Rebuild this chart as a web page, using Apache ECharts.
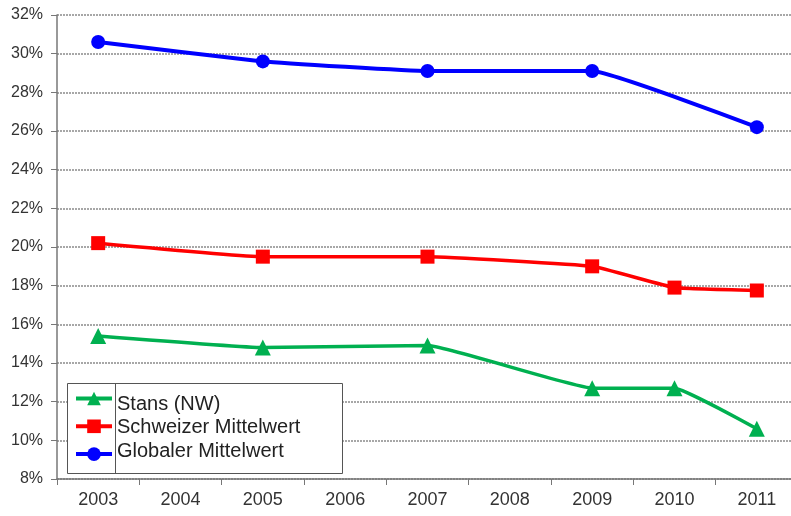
<!DOCTYPE html>
<html>
<head>
<meta charset="utf-8">
<script src="https://cdn.jsdelivr.net/npm/echarts@6/dist/echarts.min.js"></script>
<style>
  html, body { margin: 0; padding: 0; background: #fff; overflow: hidden; }
  /* plot area runs slightly past the right edge of the window */
  #chart { width: 800px; height: 516px; }
</style>
</head>
<body>
<div id="chart"></div>
<script>
// Years on the category axis
const years = ['2003', '2004', '2005', '2006', '2007', '2008', '2009', '2010', '2011'];

// Shares in percent (null = no survey that year)
const stans = [15.4, null, 14.8, null, 14.9, null, 12.7, 12.7, 10.6];
const schweiz = [20.2, null, 19.5, null, 19.5, null, 19.0, 17.9, 17.75];
const global = [30.6, null, 29.6, null, 29.1, null, 29.1, null, 26.2];

const seriesNames = ['Stans (NW)', 'Schweizer Mittelwert', 'Globaler Mittelwert'];

const chart = echarts.init(document.getElementById('chart'), null, { renderer: 'canvas' });

const textColor = '#333';
const fontFamily = '"Liberation Sans", Arial, sans-serif';

function lineSeries(name, data, color, symbol, size, width) {
  return {
    name: name,
    type: 'line',
    data: data,
    connectNulls: true,
    smooth: 0.1,
    symbol: symbol,
    symbolSize: size,
    itemStyle: { color: color },
    lineStyle: { color: color, width: width },
    emphasis: { disabled: true },
    z: 3
  };
}

// Legend texts drawn to the right of the icon column
const legendTextY = [394, 417, 441];
const legendTexts = seriesNames.map((n, i) => ({
  type: 'text',
  left: 117,
  top: legendTextY[i],
  z: 20,
  style: { text: n, fill: '#222', font: '20px ' + fontFamily }
}));

chart.setOption({
  animation: false,
  backgroundColor: '#fff',
  grid: { left: 57, top: 15, right: 2, bottom: 37, containLabel: false },
  xAxis: {
    type: 'category',
    data: years,
    boundaryGap: true,
    axisLine: { lineStyle: { color: '#777', width: 1.5 } },
    axisTick: { show: true, length: 6, lineStyle: { color: '#777' } },
    axisLabel: { color: textColor, fontSize: 18, fontFamily: fontFamily, margin: 12 },
    splitLine: { show: false }
  },
  yAxis: {
    type: 'value',
    min: 8,
    max: 32,
    interval: 2,
    axisLine: { show: true, lineStyle: { color: '#777', width: 1.5 } },
    axisTick: { show: true, length: 6, lineStyle: { color: '#777' } },
    axisLabel: {
      color: textColor, fontSize: 16, fontFamily: fontFamily, margin: 14,
      formatter: v => v + '%'
    },
    splitLine: { show: true, lineStyle: { color: '#8a8a8a', type: [2, 1], width: 1.5 } }
  },
  legend: {
    data: seriesNames,
    orient: 'vertical',
    left: 74,
    top: 390,
    z: 30,
    itemWidth: 36,
    itemHeight: 17,
    itemGap: 12.5,
    padding: 0,
    lineStyle: { width: 4 },
    formatter: () => '',
    textStyle: { fontSize: 1 },
    selectedMode: false
  },
  graphic: [
    {
      type: 'rect',
      left: 67, top: 383, z: 10,
      shape: { width: 275, height: 90 },
      style: { fill: '#fff', stroke: '#555', lineWidth: 1 }
    },
    {
      type: 'line',
      z: 11,
      shape: { x1: 115.5, y1: 383, x2: 115.5, y2: 473 },
      style: { stroke: '#555', lineWidth: 1 }
    }
  ].concat(legendTexts),
  series: [
    lineSeries(seriesNames[0], stans, '#00b050', 'triangle', 16, 3.5),
    lineSeries(seriesNames[1], schweiz, '#ff0000', 'rect', 14, 3.5),
    lineSeries(seriesNames[2], global, '#0000ff', 'circle', 14, 4)
  ]
});
</script>
</body>
</html>
